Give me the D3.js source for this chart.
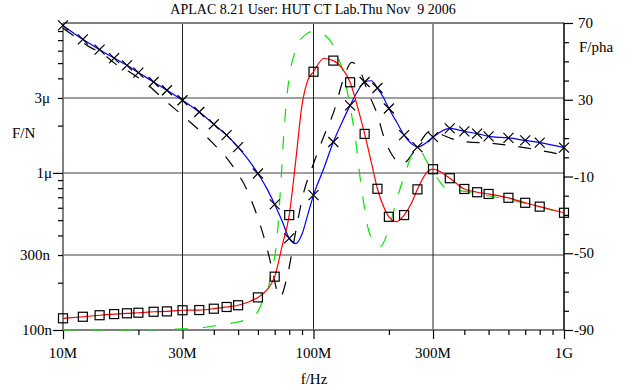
<!DOCTYPE html>
<html>
<head>
<meta charset="utf-8">
<script src="https://cdn.jsdelivr.net/npm/d3@7"></script>
<style>
  html, body { margin: 0; padding: 0; background: #fff; }
  #chart { width: 640px; height: 390px; }
</style>
</head>
<body>
<div id="chart"></div>
<script>
// frequencies (MHz) of the simulated curves
const freqMHz = [10, 12, 14, 16, 18, 20, 23, 26, 30, 35, 40, 45, 50, 55, 60, 65, 70, 75, 80, 85, 90, 95,
  100, 110, 120, 130, 140, 150, 160, 170, 180, 190, 200, 215, 230, 245, 260, 280, 300, 350, 400, 450,
  500, 600, 700, 800, 1000];
// frequencies carrying a marker
const markFreq = [10, 12, 14, 16, 18, 20, 23, 26, 30, 35, 40, 45, 50, 60, 70, 80,
  100, 120, 140, 160, 180, 200, 230, 260, 300, 350, 400, 450, 500, 600, 700, 800, 1000];

// magnitude, F/N in micro units (blue, x markers)
const magSim = [8.69, 7.08, 6.09, 5.38, 4.84, 4.35, 3.79, 3.36, 2.90, 2.44, 2.04, 1.74, 1.46, 1.21, 0.991,
  0.80, 0.630, 0.493, 0.383, 0.355, 0.408, 0.546, 0.722, 1.071, 1.574, 2.10, 2.69, 3.31, 3.79, 3.86, 3.47,
  3.03, 2.57, 2.10, 1.74, 1.545, 1.46, 1.545, 1.69, 1.92, 1.84, 1.78, 1.71, 1.67, 1.61, 1.56, 1.45];
// phase (red, square markers)
const phaseSim = [-83.9, -83.1, -82.3, -81.7, -81.3, -81.0, -80.5, -80.3, -79.7, -79.6, -78.9, -78.0, -77.1,
  -75.4, -73.0, -69.2, -62.2, -46.0, -30.1, -1.4, 27.3, 40.3, 44.6, 51.5, 50.4, 46.5, 39.1, 26.2, 12.2,
  -2.4, -16.4, -25.4, -31.0, -33.5, -30.1, -24.3, -16.7, -8.7, -6.2, -10.9, -16.5, -18.2, -19.1, -21.1,
  -23.7, -25.7, -28.9];

// reference magnitude (black dashed)
const magRefFreq = [10, 10.96, 12.8, 14.4, 16.1, 18.5, 21.2, 25.5, 31.6, 39.3, 47.3, 54.3, 60, 65.2, 68.9,
  71.5, 73.5, 78.4, 84.4, 90.8, 99.5, 110, 121, 132, 142, 153, 165, 179, 193, 206, 226, 254, 292, 361,
  410, 511, 673, 887, 1000];
const magRef = [8.32, 7.51, 6.32, 5.74, 4.98, 4.37, 3.77, 2.90, 2.16, 1.57, 1.12, 0.776, 0.515, 0.332, 0.230,
  0.177, 0.162, 0.217, 0.402, 0.722, 1.12, 1.71, 2.50, 4.00, 5.06, 4.50, 3.26, 2.40, 1.61, 1.30, 1.14,
  1.39, 1.84, 1.64, 1.574, 1.545, 1.46, 1.35, 1.30];

// reference phase (green dashed)
const phaseRefFreq = [10, 16.9, 28.5, 34.3, 42.3, 47.3, 54.3, 59.5, 62.9, 65.8, 68.3, 70.2, 72.2, 74.2, 76.3,
  78.4, 80.6, 83.6, 87.5, 92.5, 98.6, 104, 111, 119, 125, 130, 136, 142, 149, 153, 158, 165, 176, 184, 198,
  212, 222, 236, 252, 266, 281, 314, 344, 395, 475, 609, 802, 1000];
const phaseRef = [-90, -90, -89.5, -89.1, -87.4, -86.4, -84.3, -81.1, -74.4, -69.2, -57.7, -50.9, -35.3,
  -11.8, 14.2, 32.5, 44.5, 53.3, 60.1, 63.7, 65.6, 65.6, 63.7, 59.1, 52.3, 46.5, 35.1, 22.1, 3.8, -9.2,
  -22.2, -36.8, -44.7, -46.7, -38.9, -24.9, -16.0, -5.6, 3.3, 3.8, -1.4, -11.3, -17.0, -17.6, -19.6,
  -22.2, -25.9, -29.5];

// axis ticks
const xTicks = [10, 30, 100, 300, 1000];
const xTickLabels = ["10M", "30M", "100M", "300M", "1G"];
const yLTicks = [3, 1, 0.3, 0.1];
const yLTickLabels = ["3\u03bc", "1\u03bc", "300n", "100n"];
const yRTicks = [70, 30, -10, -50, -90];
const yRTickLabels = ["70", "30", "-10", "-50", "-90"];

const W = 640, H = 390;
const margin = { left: 63, right: 564, top: 23, bottom: 330 };
const FONT = "'Liberation Serif', 'Times New Roman', 'DejaVu Serif', serif";

const svg = d3.select("#chart").append("svg")
  .attr("width", W).attr("height", H)
  .attr("font-family", FONT);

const x = d3.scaleLog().domain([10, 1000]).range([margin.left, margin.right]);
const yL = d3.scaleLog().domain([0.1, 9]).range([margin.bottom, margin.top]);
const yR = d3.scaleLinear().domain([-90, 70]).range([margin.bottom, margin.top]);

function label(xp, yp, str, anchor, size) {
  return svg.append("text")
    .attr("x", xp).attr("y", yp)
    .attr("text-anchor", anchor || "start")
    .attr("font-family", FONT)
    .attr("font-size", size || 15)
    .attr("fill", "#000")
    .text(str);
}

// title
label(313, 14, "APLAC 8.21 User: HUT CT Lab.Thu Nov  9 2006", "middle", 14)
  .attr("xml:space", "preserve").style("white-space", "pre");

// grid
svg.append("g").selectAll("line")
  .data(yLTicks.filter(d => d > 0.1))
  .enter().append("line")
  .attr("x1", margin.left).attr("x2", margin.right)
  .attr("y1", d => yL(d)).attr("y2", d => yL(d))
  .attr("stroke", "#808080").attr("stroke-width", 1.5);

svg.append("g").selectAll("line")
  .data(xTicks.slice(1, -1))
  .enter().append("line")
  .attr("x1", d => x(d)).attr("x2", d => x(d))
  .attr("y1", margin.top).attr("y2", margin.bottom)
  .attr("stroke", "#222").attr("stroke-width", 1);

// frame
function frameLine(x1, y1, x2, y2, color, w) {
  svg.append("line").attr("x1", x1).attr("y1", y1).attr("x2", x2).attr("y2", y2)
    .attr("stroke", color).attr("stroke-width", w);
}
frameLine(margin.left, margin.top, margin.right, margin.top, "#808080", 2);
frameLine(margin.left, margin.top, margin.left, margin.bottom, "#808080", 2);
frameLine(margin.left, margin.bottom, margin.right, margin.bottom, "#808080", 2);
frameLine(margin.right, margin.top, margin.right, margin.bottom, "#000", 1.5);

// minor ticks
const xMinor = [20, 40, 50, 60, 70, 80, 90, 200, 400, 500, 600, 700, 800, 900];
const yLMinor = [0.2, 0.3, 0.4, 0.5, 0.6, 0.7, 0.8, 0.9, 2, 3, 4, 5, 6, 7, 8];
const yRMinor = d3.range(-80, 70, 10).filter(d => !yRTicks.includes(d));

function styleAxis(g) {
  g.select(".domain").remove();
  g.selectAll(".tick line").attr("stroke", "#000").attr("stroke-width", 1.2);
  g.selectAll(".tick text").remove();
}

svg.append("g").attr("transform", `translate(0,${margin.bottom})`)
  .call(d3.axisBottom(x).tickValues(xMinor).tickSize(5)).call(styleAxis);
svg.append("g").attr("transform", `translate(0,${margin.bottom})`)
  .call(d3.axisBottom(x).tickValues(xTicks).tickSize(9)).call(styleAxis);
svg.append("g").attr("transform", `translate(${margin.left},0)`)
  .call(d3.axisLeft(yL).tickValues(yLMinor).tickSize(5)).call(styleAxis);
svg.append("g").attr("transform", `translate(${margin.left},0)`)
  .call(d3.axisLeft(yL).tickValues([1, 0.1]).tickSize(10)).call(styleAxis);
svg.append("g").attr("transform", `translate(${margin.right},0)`)
  .call(d3.axisRight(yR).tickValues(yRMinor).tickSize(5)).call(styleAxis);
svg.append("g").attr("transform", `translate(${margin.right},0)`)
  .call(d3.axisRight(yR).tickValues(yRTicks).tickSize(9)).call(styleAxis);

// tick labels
xTicks.forEach((d, i) => label(x(d), 358, xTickLabels[i], "middle"));
yLTicks.forEach((d, i) => label((d === 1 || d === 0.1) ? 52 : 50, yL(d) + 5, yLTickLabels[i], "end"));
yRTicks.forEach((d, i) => label(d < 0 ? 574 : 578, yR(d) + 5, yRTickLabels[i], "start"));

// axis titles
label(12, 138, "F/N");
label(579, 52, "F/pha");
label(314, 384, "f/Hz", "middle");

// curves
svg.append("clipPath").attr("id", "clip").append("rect")
  .attr("x", margin.left).attr("y", margin.top - 1)
  .attr("width", margin.right - margin.left).attr("height", margin.bottom - margin.top + 2);
const plot = svg.append("g").attr("clip-path", "url(#clip)");

function drawLine(fs, vs, yScale, color, dash) {
  const line = d3.line()
    .x((d, i) => x(fs[i]))
    .y(d => yScale(d))
    .curve(d3.curveMonotoneX);
  plot.append("path")
    .datum(vs)
    .attr("d", line)
    .attr("fill", "none")
    .attr("stroke", color)
    .attr("stroke-width", 1.2)
    .attr("stroke-dasharray", dash || null);
}

drawLine(magRefFreq, magRef, yL, "#000", "13,13");
drawLine(phaseRefFreq, phaseRef, yR, "#00e600", "13,15");
drawLine(freqMHz, magSim, yL, "#0000ff");
drawLine(freqMHz, phaseSim, yR, "#ff0000");

// markers
const magMarks = markFreq.map(f => ({ f, v: magSim[freqMHz.indexOf(f)] }));
const phaseMarks = markFreq.map(f => ({ f, v: phaseSim[freqMHz.indexOf(f)] }));

const s = 5;
svg.append("g").selectAll("path")
  .data(magMarks).enter().append("path")
  .attr("d", d => {
    const cx = x(d.f), cy = yL(d.v);
    return `M${cx - s},${cy - s}L${cx + s},${cy + s}M${cx - s},${cy + s}L${cx + s},${cy - s}`;
  })
  .attr("stroke", "#000").attr("stroke-width", 1.2).attr("fill", "none");

svg.append("g").selectAll("rect")
  .data(phaseMarks).enter().append("rect")
  .attr("x", d => x(d.f) - 4.5).attr("y", d => yR(d.v) - 4.5)
  .attr("width", 9).attr("height", 9)
  .attr("fill", "none").attr("stroke", "#000").attr("stroke-width", 1.2);
</script>
</body>
</html>
